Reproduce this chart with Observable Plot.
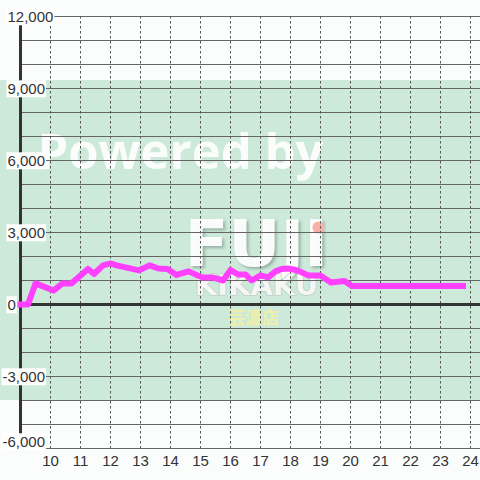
<!DOCTYPE html>
<html>
<head>
<meta charset="utf-8">
<script src="https://cdn.jsdelivr.net/npm/d3@7"></script>
<script src="https://cdn.jsdelivr.net/npm/@observablehq/plot@0.6"></script>
<style>
  html, body { margin: 0; padding: 0; background: #fafdfb; }
  #chart { width: 480px; height: 480px; overflow: hidden; }
</style>
</head>
<body>
<div id="chart"></div>
<script>
// ---- data ----
const hours  = [9.0, 9.25, 9.5, 10.1, 10.4, 10.7, 11.25, 11.45, 11.75, 12.0, 12.2, 12.95, 13.3, 13.6, 13.9, 14.2, 14.6, 15.05, 15.4, 15.75, 16.0, 16.25, 16.5, 16.7, 17.0, 17.25, 17.5, 17.7, 17.9, 18.1, 18.3, 18.6, 19.0, 19.35, 19.8, 20.05, 23.75];
const values = [0, 0, 880, 580, 880, 880, 1480, 1270, 1630, 1710, 1630, 1420, 1630, 1500, 1480, 1230, 1380, 1130, 1130, 1000, 1440, 1250, 1250, 1000, 1210, 1130, 1380, 1480, 1500, 1460, 1380, 1210, 1210, 920, 980, 770, 770];
const xTicks = [10, 11, 12, 13, 14, 15, 16, 17, 18, 19, 20, 21, 22, 23, 24];
const yTicks = [-6000, -3000, 0, 3000, 6000, 9000, 12000];
const yGrid  = [-6000, -5000, -4000, -3000, -2000, -1000, 0, 1000, 2000, 3000, 4000, 5000, 6000, 7000, 8000, 9000, 10000, 11000, 12000];
const watermarkBand = [-4000, 9333];
const watermarkTexts = ["Powered by", "FUJI", "KIKAKU", "芸濃店"];

const series = hours.map((h, i) => ({h, v: values[i]}));
const fmt = d => d3.format(",")(d).replace("−", "-");

const chart = Plot.plot({
  width: 480,
  height: 480,
  marginLeft: 20,
  marginRight: 0,
  marginTop: 16,
  marginBottom: 32,
  style: {background: "#fafdfb", color: "#333", fontFamily: "'Liberation Sans', Arial, sans-serif"},
  x: {domain: [9, 9 + 460 / 30], axis: null},
  y: {domain: [-6000, 12000], axis: null},
  marks: [
    // watermark background
    Plot.rect([watermarkBand], {y1: d => d[0], y2: d => d[1], fill: "#cce9da", insetLeft: -20}),
    Plot.text([watermarkTexts[0]], {frameAnchor: "top-left", dx: 17, dy: 137, text: d => d, textAnchor: "start", lineAnchor: "middle",
      fontSize: 49, fontWeight: "bold", fontFamily: "'Open Sans', sans-serif", fill: "#ffffff", fillOpacity: 0.9}),
    Plot.text([watermarkTexts[1]], {frameAnchor: "top-left", dx: 236, dy: 229, text: d => d, textAnchor: "middle", lineAnchor: "middle",
      fontSize: 64, fontWeight: "bold", fontFamily: "'DejaVu Sans', sans-serif", fill: "#ffffff", fillOpacity: 0.95}),
    Plot.text([watermarkTexts[2]], {frameAnchor: "top-left", dx: 236, dy: 269, text: d => d, textAnchor: "middle", lineAnchor: "middle",
      fontSize: 29, fontWeight: "bold", fontFamily: "'DejaVu Sans', sans-serif", fill: "#f4f7f5", stroke: "#b9c8c0", strokeWidth: 1.2}),
    Plot.dot([0], {frameAnchor: "top-left", dx: 298, dy: 211, r: 6, fill: "#f6b0a6", stroke: "none"}),
    Plot.text([watermarkTexts[3]], {frameAnchor: "top-left", dx: 233, dy: 302, text: d => d, textAnchor: "middle", lineAnchor: "middle",
      fontSize: 17, fontWeight: "bold", fontFamily: "'Noto Sans CJK JP', sans-serif", fill: "#eef0a8"}),
    // grid
    Plot.ruleY(yGrid, {stroke: "#666", strokeWidth: 1.1}),
    Plot.ruleX(xTicks, {stroke: "#555", strokeWidth: 1, strokeDasharray: "2.5,2.5"}),
    Plot.ruleX([9], {stroke: "#333", strokeWidth: 3}),
    Plot.ruleY([0], {stroke: "#333", strokeWidth: 3}),
    // axes labels
    Plot.axisX(xTicks, {tickSize: 0, tickPadding: 7, fontSize: 15, label: null, tickFormat: d => String(d)}),
    Plot.text(yTicks.filter(d => d >= 0), {y: d => d, text: fmt, frameAnchor: "left", textAnchor: "start", dx: -13, dy: 1,
      fontSize: 15, fill: "#333"}),
    Plot.text(yTicks.filter(d => d < 0 && d > -6000), {y: d => d, text: fmt, frameAnchor: "left", textAnchor: "start", dx: -18, dy: 1,
      fontSize: 15, fill: "#333"}),
    Plot.text(yTicks.filter(d => d === -6000), {y: d => d, text: fmt, frameAnchor: "left", textAnchor: "start", dx: -18, dy: -6,
      fontSize: 15, fill: "#333"}),
    // data line
    Plot.line(series, {x: "h", y: "v", stroke: "#ff40ff", strokeWidth: 6, strokeLinecap: "square", strokeLinejoin: "round"})
  ]
});

document.getElementById("chart").appendChild(chart);

// white boxes behind the y tick labels, shadow on the logo letters
const yLabelSet = new Set(yTicks.map(fmt));
chart.querySelectorAll("text").forEach(t => {
  const s = t.textContent.trim();
  if (s === watermarkTexts[1]) {
    t.style.filter = "drop-shadow(2px 2px 1.5px rgba(120,150,135,0.7))";
    return;
  }
  if (!yLabelSet.has(s)) return;
  const b = t.getBBox();
  const r = document.createElementNS("http://www.w3.org/2000/svg", "rect");
  r.setAttribute("x", b.x - 1);
  r.setAttribute("y", b.y);
  r.setAttribute("width", b.width + 2);
  r.setAttribute("height", b.height);
  r.setAttribute("fill", "#ffffff");
  const tr = t.getAttribute("transform");
  if (tr) r.setAttribute("transform", tr);
  t.parentNode.insertBefore(r, t);
});
</script>
</body>
</html>
